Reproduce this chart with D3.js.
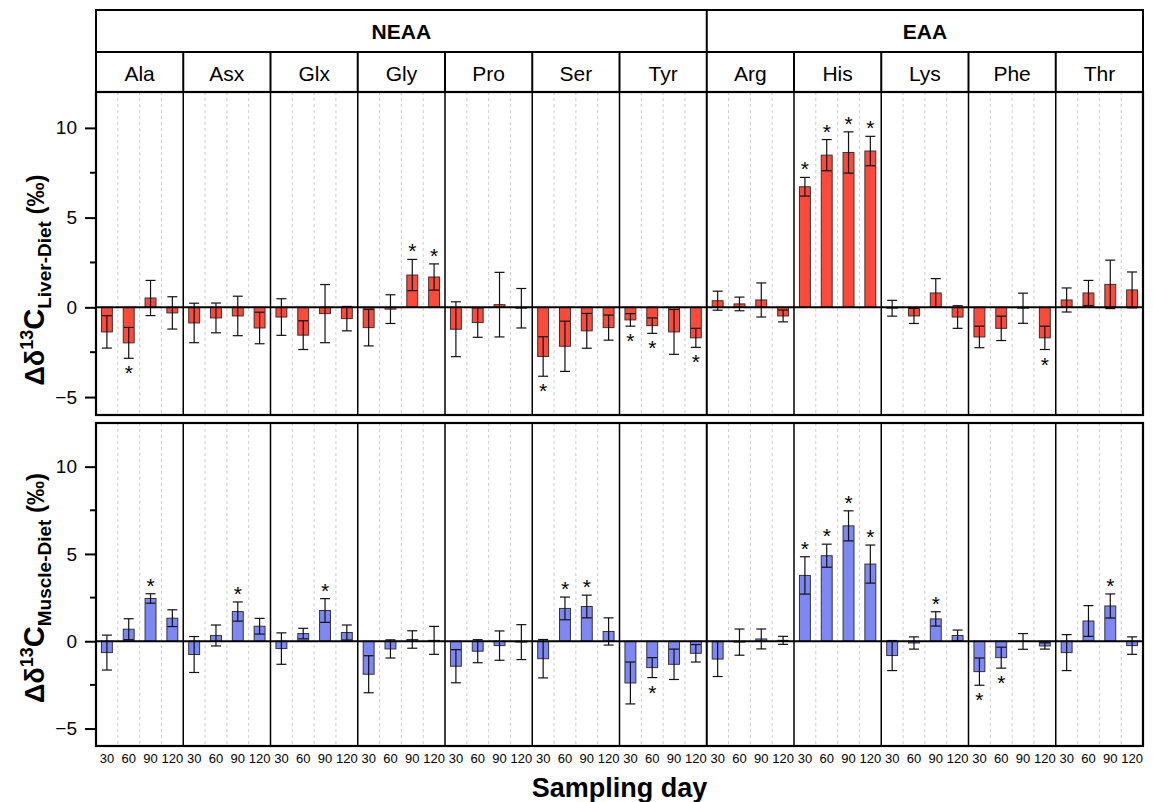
<!DOCTYPE html>
<html>
<head>
<meta charset="utf-8">
<script src="https://cdn.jsdelivr.net/npm/d3@7"></script>
<style>
  body { margin: 0; background: #fff; }
  text { font-family: "Liberation Sans", Arial, sans-serif; fill: #000; }
</style>
</head>
<body>
<svg></svg>
<script>
const width = 1153;
const height = 802;

// categories
const groupNames = ["NEAA", "EAA"];
const groupCounts = [7, 5];
const aminoAcids = ["Ala", "Asx", "Glx", "Gly", "Pro", "Ser", "Tyr", "Arg", "His", "Lys", "Phe", "Thr"];
const days = [30, 60, 90, 120];
const yTicks = [-5, 0, 5, 10];
const yMinorTicks = [-2.5, 2.5, 7.5];

// liver - diet (means, error, significance), one row per amino acid
const liverMean = [
  [-1.37, -1.98, 0.52, -0.31],
  [-0.87, -0.59, -0.48, -1.15],
  [-0.54, -1.55, -0.35, -0.63],
  [-1.13, -0.10, 1.80, 1.69],
  [-1.22, -0.85, 0.15, -0.05],
  [-2.74, -2.17, -1.31, -1.13],
  [-0.70, -1.02, -1.37, -1.70],
  [0.37, 0.19, 0.41, -0.48],
  [6.72, 8.48, 8.63, 8.71],
  [-0.05, -0.48, 0.80, -0.54],
  [-1.65, -1.17, -0.05, -1.70],
  [0.41, 0.80, 1.28, 0.97]
];
const liverErr = [
  [0.90, 0.86, 0.98, 0.90],
  [1.10, 0.83, 1.10, 0.88],
  [1.02, 0.80, 1.62, 0.68],
  [1.02, 0.80, 0.87, 0.73],
  [1.53, 0.82, 1.80, 1.10],
  [1.10, 1.40, 0.97, 0.70],
  [0.35, 0.43, 1.25, 0.53],
  [0.53, 0.38, 0.95, 0.33],
  [0.52, 0.87, 1.15, 0.82],
  [0.44, 0.42, 0.80, 0.63],
  [0.60, 0.68, 0.84, 0.65],
  [0.67, 0.70, 1.35, 1.00]
];
const liverSig = [
  [0, 1, 0, 0], [0, 0, 0, 0], [0, 0, 0, 0], [0, 0, 1, 1], [0, 0, 0, 0], [1, 0, 0, 0],
  [1, 1, 0, 1], [0, 0, 0, 0], [1, 1, 1, 1], [0, 0, 0, 0], [0, 0, 0, 1], [0, 0, 0, 0]
];

// muscle - diet
const muscleMean = [
  [-0.65, 0.69, 2.45, 1.32],
  [-0.76, 0.33, 1.70, 0.86],
  [-0.42, 0.44, 1.76, 0.50],
  [-1.89, -0.44, 0.10, 0.05],
  [-1.43, -0.57, -0.25, -0.05],
  [-1.00, 1.88, 1.99, 0.56],
  [-2.39, -1.51, -1.32, -0.69],
  [-1.02, -0.05, 0.13, 0.05],
  [3.77, 4.90, 6.61, 4.42],
  [-0.82, -0.10, 1.28, 0.33],
  [-1.74, -0.94, -0.01, -0.27],
  [-0.65, 1.16, 2.02, -0.25]
];
const muscleErr = [
  [1.00, 0.60, 0.27, 0.48],
  [1.03, 0.60, 0.55, 0.45],
  [0.90, 0.30, 0.68, 0.43],
  [1.06, 0.52, 0.50, 0.80],
  [0.95, 0.66, 0.84, 1.00],
  [1.10, 0.65, 0.65, 0.78],
  [1.20, 0.57, 0.87, 0.50],
  [1.00, 0.75, 0.57, 0.23],
  [1.07, 0.66, 0.86, 1.09],
  [0.86, 0.35, 0.41, 0.31],
  [0.78, 0.60, 0.45, 0.18],
  [1.03, 0.88, 0.69, 0.50]
];
const muscleSig = [
  [0, 0, 1, 0], [0, 0, 1, 0], [0, 0, 1, 0], [0, 0, 0, 0], [0, 0, 0, 0], [0, 1, 1, 0],
  [0, 1, 0, 0], [0, 0, 0, 0], [1, 1, 1, 1], [0, 0, 1, 0], [1, 1, 0, 0], [0, 0, 1, 0]
];

const left = 96, right = 1143;
const headTop = 10, headMid = 52, headBot = 92;

const svg = d3.select("svg")
  .attr("width", width)
  .attr("height", height);

svg.append("rect").attr("width", width).attr("height", height).attr("fill", "#fff");

// panel scale and bar scale inside each panel
const xPanel = d3.scaleBand()
  .domain(aminoAcids)
  .range([left, right]);

const xDay = d3.scaleBand()
  .domain(days)
  .range([0, xPanel.bandwidth()])
  .paddingInner(0.5)
  .paddingOuter(0.25);

const rows = [
  { name: "Liver", mean: liverMean, err: liverErr, sig: liverSig, color: "#ff4a3a",
    y: d3.scaleLinear().domain([-6, 12]).range([415, 92]), labelY: 280 },
  { name: "Muscle", mean: muscleMean, err: muscleErr, sig: muscleSig, color: "#7d88f6",
    y: d3.scaleLinear().domain([-6, 12.5]).range([746, 423]), labelY: 588 }
];

// header boxes
const header = svg.append("g");
let start = 0;
groupNames.forEach((g, i) => {
  const x0 = xPanel(aminoAcids[start]);
  const x1 = xPanel(aminoAcids[start + groupCounts[i] - 1]) + xPanel.bandwidth();
  header.append("text")
    .attr("x", (x0 + x1) / 2)
    .attr("y", 39)
    .attr("text-anchor", "middle")
    .style("font-size", "21px")
    .style("font-weight", "bold")
    .text(g);
  start += groupCounts[i];
});

header.selectAll(".aa")
  .data(aminoAcids)
  .enter().append("text")
  .attr("x", d => xPanel(d) + xPanel.bandwidth() / 2)
  .attr("y", 81)
  .attr("text-anchor", "middle")
  .style("font-size", "21px")
  .text(d => d);

header.append("rect")
  .attr("x", left).attr("y", headTop)
  .attr("width", right - left).attr("height", headBot - headTop)
  .attr("fill", "none").attr("stroke", "#000").attr("stroke-width", 2);
header.append("line")
  .attr("x1", left).attr("x2", right)
  .attr("y1", headMid).attr("y2", headMid)
  .attr("stroke", "#000").attr("stroke-width", 2);
header.selectAll(".hdiv")
  .data(aminoAcids.slice(1))
  .enter().append("line")
  .attr("x1", d => xPanel(d)).attr("x2", d => xPanel(d))
  .attr("y1", d => d === "Arg" ? headTop : headMid).attr("y2", headBot)
  .attr("stroke", "#000").attr("stroke-width", 2);

rows.forEach(row => {
  const y = row.y;
  const [yb, yt] = y.range();
  const g = svg.append("g");

  // dashed guides between sampling days
  aminoAcids.forEach(aa => {
    days.slice(1).forEach(d => {
      const x = xPanel(aa) + xDay(d) - xDay.step() * xDay.paddingInner() / 2;
      g.append("line")
        .attr("x1", x).attr("x2", x)
        .attr("y1", yt).attr("y2", yb)
        .attr("stroke", "#cccccc")
        .attr("stroke-width", 1)
        .attr("stroke-dasharray", "3,3");
    });
  });

  const points = [];
  aminoAcids.forEach((aa, i) => {
    days.forEach((d, j) => {
      points.push({ aa, day: d, mean: row.mean[i][j], err: row.err[i][j], sig: row.sig[i][j] });
    });
  });
  const cx = p => xPanel(p.aa) + xDay(p.day) + xDay.bandwidth() / 2;

  g.selectAll(".bar")
    .data(points)
    .enter().append("rect")
    .attr("x", p => xPanel(p.aa) + xDay(p.day))
    .attr("width", xDay.bandwidth())
    .attr("y", p => y(Math.max(0, p.mean)))
    .attr("height", p => Math.abs(y(p.mean) - y(0)))
    .attr("fill", row.color)
    .attr("stroke", "#333")
    .attr("stroke-width", 1);

  // error bars
  const eb = g.selectAll(".err")
    .data(points)
    .enter().append("g")
    .attr("stroke", "#111")
    .attr("stroke-width", 1.2);
  eb.append("line")
    .attr("x1", cx).attr("x2", cx)
    .attr("y1", p => y(p.mean - p.err)).attr("y2", p => y(p.mean + p.err));
  [-1, 1].forEach(s => {
    eb.append("line")
      .attr("x1", p => cx(p) - 5).attr("x2", p => cx(p) + 5)
      .attr("y1", p => y(p.mean + s * p.err)).attr("y2", p => y(p.mean + s * p.err));
  });

  // significance stars
  g.selectAll(".star")
    .data(points.filter(p => p.sig))
    .enter().append("text")
    .attr("x", cx)
    .attr("y", p => p.mean >= 0 ? y(p.mean + p.err) - 1 : y(p.mean - p.err) + 22)
    .attr("text-anchor", "middle")
    .style("font-size", "21px")
    .text("*");

  // zero line
  g.append("line")
    .attr("x1", left).attr("x2", right)
    .attr("y1", y(0)).attr("y2", y(0))
    .attr("stroke", "#000").attr("stroke-width", 2);

  // panel dividers
  g.selectAll(".div")
    .data(aminoAcids.slice(1))
    .enter().append("line")
    .attr("x1", d => xPanel(d)).attr("x2", d => xPanel(d))
    .attr("y1", yt).attr("y2", yb)
    .attr("stroke", "#000")
    .attr("stroke-width", d => d === "Arg" ? 2 : 1.5);

  g.append("rect")
    .attr("x", left).attr("y", yt)
    .attr("width", right - left).attr("height", yb - yt)
    .attr("fill", "none").attr("stroke", "#000").attr("stroke-width", 2.2);

  // y axis
  const axis = g.append("g")
    .attr("transform", "translate(" + left + ",0)")
    .call(d3.axisLeft(y).tickValues(yTicks).tickSize(11).tickPadding(8));
  axis.select(".domain").remove();
  axis.selectAll("line").attr("stroke-width", 2);
  axis.selectAll("text")
    .style("font-size", "19px")
    .style("font-family", "'Liberation Sans', Arial, sans-serif");
  g.selectAll(".minor")
    .data(yMinorTicks)
    .enter().append("line")
    .attr("x1", left - 6).attr("x2", left)
    .attr("y1", d => y(d)).attr("y2", d => y(d))
    .attr("stroke", "#000").attr("stroke-width", 2);

  // y label
  const lab = g.append("text")
    .attr("transform", "translate(44," + row.labelY + ") rotate(-90)")
    .attr("text-anchor", "middle")
    .style("font-weight", "bold");
  lab.append("tspan").style("font-size", "27px").text("Δδ");
  lab.append("tspan").style("font-size", "18px").attr("dy", -11).text("13");
  lab.append("tspan").style("font-size", "29px").attr("dy", 11).text("C");
  lab.append("tspan").style("font-size", "19px").attr("dy", 7).text(row.name + "-Diet");
  lab.append("tspan").style("font-size", "24px").attr("dy", -7).text(" (‰)");
});

// x tick labels under bottom row
const bottom = rows[1].y.range()[0];
aminoAcids.forEach(aa => {
  svg.append("g")
    .selectAll("text")
    .data(days)
    .enter().append("text")
    .attr("x", d => xPanel(aa) + xDay(d) + xDay.bandwidth() / 2)
    .attr("y", bottom + 17)
    .attr("text-anchor", "middle")
    .style("font-size", "13px")
    .text(d => d);
});

svg.append("text")
  .attr("x", (left + right) / 2)
  .attr("y", 797)
  .attr("text-anchor", "middle")
  .style("font-size", "27px")
  .style("font-weight", "bold")
  .text("Sampling day");
</script>
</body>
</html>
